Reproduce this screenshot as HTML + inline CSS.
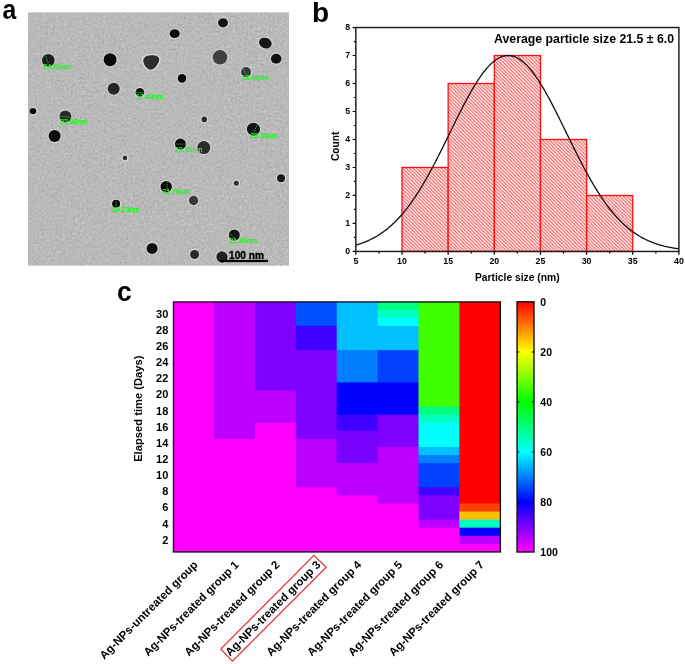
<!DOCTYPE html><html><head><meta charset="utf-8"><style>html,body{margin:0;padding:0;background:#fff;}svg{display:block;will-change:transform;}text{font-family:"Liberation Sans",sans-serif;}</style></head><body>
<svg width="685" height="664" viewBox="0 0 685 664">
<defs>
<pattern id="hatch" patternUnits="userSpaceOnUse" x="0" y="0" width="3.5" height="3.5"><rect width="3.5" height="3.5" fill="#fff"/><path d="M-1,-1L4.5,4.5M-1,2.5L1,4.5M2.5,-1L4.5,1" stroke="#f25a5a" stroke-width="1.15" fill="none"/></pattern>
<filter id="noise" x="0" y="0" width="100%" height="100%" color-interpolation-filters="sRGB"><feTurbulence type="fractalNoise" baseFrequency="0.45" numOctaves="2" seed="7"/><feColorMatrix type="matrix" values="0 0 0 0 1  0 0 0 0 1  0 0 0 0 1  1.6 0 0 0 -0.8"/></filter>
<filter id="noise2" x="0" y="0" width="100%" height="100%" color-interpolation-filters="sRGB"><feTurbulence type="fractalNoise" baseFrequency="0.45" numOctaves="2" seed="11"/><feColorMatrix type="matrix" values="0 0 0 0 0  0 0 0 0 0  0 0 0 0 0  1.6 0 0 0 -0.8"/></filter>
<linearGradient id="cb" x1="0" y1="0" x2="0" y2="1"><stop offset="0" stop-color="#ff0000"/><stop offset="0.2" stop-color="#ffff00"/><stop offset="0.4" stop-color="#00ff00"/><stop offset="0.6" stop-color="#00ffff"/><stop offset="0.8" stop-color="#0000ff"/><stop offset="1" stop-color="#ff00ff"/></linearGradient>
<radialGradient id="halo"><stop offset="0.6" stop-color="#fff" stop-opacity="0.9"/><stop offset="1" stop-color="#fff" stop-opacity="0"/></radialGradient>
</defs>
<rect x="28" y="12.4" width="261" height="253.20000000000002" fill="#b9b9b9"/>
<rect x="28" y="12.4" width="261" height="253.20000000000002" fill="#fff" filter="url(#noise)" opacity="0.5"/>
<rect x="28" y="12.4" width="261" height="253.20000000000002" fill="#000" filter="url(#noise2)" opacity="0.18"/>
<ellipse cx="48.3" cy="60.3" rx="7.9" ry="7.9" fill="url(#halo)"/>
<ellipse cx="48.3" cy="60.3" rx="6.3" ry="6.3" fill="#1e1e1e" transform="rotate(0 48.3 60.3)"/>
<ellipse cx="110.1" cy="59.7" rx="8.1" ry="8.1" fill="url(#halo)"/>
<ellipse cx="110.1" cy="59.7" rx="6.5" ry="6.5" fill="#0a0a0a" transform="rotate(0 110.1 59.7)"/>
<ellipse cx="113.7" cy="88.8" rx="7.6" ry="7.6" fill="url(#halo)"/>
<ellipse cx="113.7" cy="88.8" rx="6" ry="6" fill="#262626" transform="rotate(0 113.7 88.8)"/>
<ellipse cx="139.9" cy="92.2" rx="5.9" ry="5.9" fill="url(#halo)"/>
<ellipse cx="139.9" cy="92.2" rx="4.3" ry="4.3" fill="#101010" transform="rotate(0 139.9 92.2)"/>
<ellipse cx="32.9" cy="111.1" rx="5.0" ry="4.800000000000001" fill="url(#halo)"/>
<ellipse cx="32.9" cy="111.1" rx="3.4" ry="3.2" fill="#0a0a0a" transform="rotate(0 32.9 111.1)"/>
<ellipse cx="65.4" cy="116.4" rx="7.6" ry="7.6" fill="url(#halo)"/>
<ellipse cx="65.4" cy="116.4" rx="6" ry="6" fill="#2a2a2a" transform="rotate(0 65.4 116.4)"/>
<ellipse cx="54.6" cy="136.1" rx="7.6" ry="7.6" fill="url(#halo)"/>
<ellipse cx="54.6" cy="136.1" rx="6" ry="6" fill="#080808" transform="rotate(0 54.6 136.1)"/>
<ellipse cx="223" cy="22.8" rx="6.6" ry="6.199999999999999" fill="url(#halo)"/>
<ellipse cx="223" cy="22.8" rx="5" ry="4.6" fill="#141414" transform="rotate(0 223 22.8)"/>
<ellipse cx="174.7" cy="33.6" rx="6.699999999999999" ry="5.9" fill="url(#halo)"/>
<ellipse cx="174.7" cy="33.6" rx="5.1" ry="4.3" fill="#0a0a0a" transform="rotate(0 174.7 33.6)"/>
<ellipse cx="265.4" cy="43.1" rx="8.1" ry="6.9" fill="url(#halo)"/>
<ellipse cx="265.4" cy="43.1" rx="6.5" ry="5.3" fill="#141414" transform="rotate(20 265.4 43.1)"/>
<ellipse cx="276.2" cy="58.7" rx="6.9" ry="6.6" fill="url(#halo)"/>
<ellipse cx="276.2" cy="58.7" rx="5.3" ry="5.0" fill="#121212" transform="rotate(0 276.2 58.7)"/>
<ellipse cx="220" cy="57.3" rx="8.9" ry="8.9" fill="url(#halo)"/>
<ellipse cx="220" cy="57.3" rx="7.3" ry="7.3" fill="#404040" transform="rotate(0 220 57.3)"/>
<ellipse cx="182" cy="78.4" rx="5.9" ry="5.9" fill="url(#halo)"/>
<ellipse cx="182" cy="78.4" rx="4.3" ry="4.3" fill="#080808" transform="rotate(0 182 78.4)"/>
<ellipse cx="246" cy="72.1" rx="6.6" ry="6.6" fill="url(#halo)"/>
<ellipse cx="246" cy="72.1" rx="5" ry="5" fill="#3a3a3a" transform="rotate(0 246 72.1)"/>
<ellipse cx="204.3" cy="119.4" rx="4.4" ry="4.4" fill="url(#halo)"/>
<ellipse cx="204.3" cy="119.4" rx="2.8" ry="2.8" fill="#2e2e2e" transform="rotate(0 204.3 119.4)"/>
<ellipse cx="253.5" cy="129.2" rx="8.1" ry="8.1" fill="url(#halo)"/>
<ellipse cx="253.5" cy="129.2" rx="6.5" ry="6.5" fill="#121212" transform="rotate(0 253.5 129.2)"/>
<ellipse cx="125" cy="158" rx="4.0" ry="4.0" fill="url(#halo)"/>
<ellipse cx="125" cy="158" rx="2.4" ry="2.4" fill="#333333" transform="rotate(0 125 158)"/>
<ellipse cx="116.1" cy="203.7" rx="5.6" ry="5.6" fill="url(#halo)"/>
<ellipse cx="116.1" cy="203.7" rx="4" ry="4" fill="#080808" transform="rotate(0 116.1 203.7)"/>
<ellipse cx="152.1" cy="248.4" rx="7.1" ry="7.1" fill="url(#halo)"/>
<ellipse cx="152.1" cy="248.4" rx="5.5" ry="5.5" fill="#0e0e0e" transform="rotate(0 152.1 248.4)"/>
<ellipse cx="180.4" cy="144.1" rx="7.1" ry="7.1" fill="url(#halo)"/>
<ellipse cx="180.4" cy="144.1" rx="5.5" ry="5.5" fill="#080808" transform="rotate(0 180.4 144.1)"/>
<ellipse cx="203.8" cy="147.6" rx="8.1" ry="8.1" fill="url(#halo)"/>
<ellipse cx="203.8" cy="147.6" rx="6.5" ry="6.5" fill="#2a2a2a" transform="rotate(0 203.8 147.6)"/>
<ellipse cx="281" cy="178.3" rx="5.6" ry="5.6" fill="url(#halo)"/>
<ellipse cx="281" cy="178.3" rx="4" ry="4" fill="#1a1a1a" transform="rotate(0 281 178.3)"/>
<ellipse cx="236.3" cy="183.2" rx="4.2" ry="4.2" fill="url(#halo)"/>
<ellipse cx="236.3" cy="183.2" rx="2.6" ry="2.6" fill="#363636" transform="rotate(0 236.3 183.2)"/>
<ellipse cx="166.2" cy="186.8" rx="7.300000000000001" ry="7.300000000000001" fill="url(#halo)"/>
<ellipse cx="166.2" cy="186.8" rx="5.7" ry="5.7" fill="#080808" transform="rotate(0 166.2 186.8)"/>
<ellipse cx="193.6" cy="200.5" rx="6.300000000000001" ry="6.300000000000001" fill="url(#halo)"/>
<ellipse cx="193.6" cy="200.5" rx="4.7" ry="4.7" fill="#3a3a3a" transform="rotate(0 193.6 200.5)"/>
<ellipse cx="234.3" cy="235" rx="7.1" ry="7.1" fill="url(#halo)"/>
<ellipse cx="234.3" cy="235" rx="5.5" ry="5.5" fill="#151515" transform="rotate(0 234.3 235)"/>
<ellipse cx="194.6" cy="254.5" rx="6.1" ry="6.1" fill="url(#halo)"/>
<ellipse cx="194.6" cy="254.5" rx="4.5" ry="4.5" fill="#2a2a2a" transform="rotate(0 194.6 254.5)"/>
<ellipse cx="222" cy="257" rx="7.300000000000001" ry="7.300000000000001" fill="url(#halo)"/>
<ellipse cx="222" cy="257" rx="5.7" ry="5.7" fill="#222222" transform="rotate(0 222 257)"/>
<path d="M143.3,60.5 C143.3,56.2 148.5,55.2 153,55.3 C158.2,55.4 160.6,58.2 158.6,62.2 C157,65.6 154.2,69.8 150.6,69.7 C147,69.6 143.3,64.5 143.3,60.5 Z" fill="none" stroke="#fff" stroke-opacity="0.55" stroke-width="2.6"/>
<path d="M143.3,60.5 C143.3,56.2 148.5,55.2 153,55.3 C158.2,55.4 160.6,58.2 158.6,62.2 C157,65.6 154.2,69.8 150.6,69.7 C147,69.6 143.3,64.5 143.3,60.5 Z" fill="#2c2c2c"/>
<path d="M45.7,56.3L48.3,63.2 M59.5,116.4L71.3,117.4 M135.9,92.5L144.0,92.5 M242.7,68.1L246.6,75 M257.5,124.3L253.5,133.2 M116.1,201.1L116.1,206.2 M175.3,144.1L185.5,144.1 M167.2,181.8L167.2,190.9 M229.8,233.6L235.3,238.7" stroke="#22dd22" stroke-width="0.8" fill="none" stroke-dasharray="1.2 0.8"/>
<text x="43.20" y="68.60" font-size="7.1" fill="#2bf02b" stroke="#2bf02b" stroke-width="0.25">24.65nm</text>
<text x="135.90" y="98.70" font-size="7.1" fill="#2bf02b" stroke="#2bf02b" stroke-width="0.25">17.43nm</text>
<text x="60.00" y="124.30" font-size="7.1" fill="#2bf02b" stroke="#2bf02b" stroke-width="0.25">22.88nm</text>
<text x="241.20" y="80.00" font-size="7.1" fill="#2bf02b" stroke="#2bf02b" stroke-width="0.25">18.49nm</text>
<text x="250.10" y="137.70" font-size="7.1" fill="#2bf02b" stroke="#2bf02b" stroke-width="0.25">28.30nm</text>
<text x="111.90" y="211.60" font-size="7.1" fill="#2bf02b" stroke="#2bf02b" stroke-width="0.25">15.23nm</text>
<text x="174.80" y="151.60" font-size="7.1" fill="#2bf02b" stroke="#2bf02b" stroke-width="0.25">20.66nm</text>
<text x="162.20" y="193.90" font-size="7.1" fill="#2bf02b" stroke="#2bf02b" stroke-width="0.25">21.78nm</text>
<text x="229.30" y="243.30" font-size="7.1" fill="#2bf02b" stroke="#2bf02b" stroke-width="0.25">21.89nm</text>
<text x="229.1" y="258.5" font-size="10.1" font-weight="bold" fill="#000" stroke="#000" stroke-width="0.35" word-spacing="0">100 nm</text>
<rect x="220.7" y="259.9" width="47.3" height="2.2" fill="#000"/>
<text transform="translate(2.6,18.6) scale(0.9,1)" font-size="27.5" font-weight="bold">a</text>
<text transform="translate(312.0,22.1) scale(1.02,1)" font-size="27.5" font-weight="bold">b</text>
<text transform="translate(116.9,300.5) scale(0.96,1)" font-size="27.5" font-weight="bold">c</text>
<rect x="402.00" y="167.48" width="46.15" height="83.97" fill="url(#hatch)" stroke="#ff1010" stroke-width="1.3"/>
<rect x="448.15" y="83.51" width="46.15" height="167.94" fill="url(#hatch)" stroke="#ff1010" stroke-width="1.3"/>
<rect x="494.30" y="55.52" width="46.15" height="195.93" fill="url(#hatch)" stroke="#ff1010" stroke-width="1.3"/>
<rect x="540.45" y="139.49" width="46.15" height="111.96" fill="url(#hatch)" stroke="#ff1010" stroke-width="1.3"/>
<rect x="586.60" y="195.47" width="46.15" height="55.98" fill="url(#hatch)" stroke="#ff1010" stroke-width="1.3"/>
<polyline points="355.85,245.10 356.77,244.83 357.70,244.56 358.62,244.27 359.54,243.97 360.47,243.66 361.39,243.34 362.31,243.01 363.23,242.67 364.16,242.32 365.08,241.95 366.00,241.57 366.93,241.18 367.85,240.78 368.77,240.37 369.70,239.94 370.62,239.50 371.54,239.04 372.46,238.57 373.39,238.09 374.31,237.59 375.23,237.07 376.16,236.55 377.08,236.00 378.00,235.44 378.93,234.86 379.85,234.27 380.77,233.66 381.69,233.03 382.62,232.39 383.54,231.73 384.46,231.05 385.39,230.35 386.31,229.63 387.23,228.90 388.16,228.14 389.08,227.37 390.00,226.58 390.92,225.77 391.85,224.93 392.77,224.08 393.69,223.21 394.62,222.32 395.54,221.40 396.46,220.47 397.39,219.52 398.31,218.54 399.23,217.54 400.15,216.52 401.08,215.48 402.00,214.42 402.92,213.34 403.85,212.23 404.77,211.10 405.69,209.95 406.62,208.78 407.54,207.59 408.46,206.37 409.38,205.14 410.31,203.88 411.23,202.59 412.15,201.29 413.08,199.97 414.00,198.62 414.92,197.25 415.85,195.86 416.77,194.45 417.69,193.02 418.61,191.56 419.54,190.09 420.46,188.60 421.38,187.08 422.31,185.55 423.23,183.99 424.15,182.42 425.08,180.83 426.00,179.22 426.92,177.59 427.84,175.94 428.77,174.28 429.69,172.60 430.61,170.90 431.54,169.19 432.46,167.46 433.38,165.72 434.31,163.96 435.23,162.19 436.15,160.41 437.07,158.61 438.00,156.81 438.92,154.99 439.84,153.16 440.77,151.32 441.69,149.48 442.61,147.62 443.54,145.76 444.46,143.90 445.38,142.02 446.30,140.15 447.23,138.27 448.15,136.38 449.07,134.50 450.00,132.61 450.92,130.73 451.84,128.84 452.77,126.96 453.69,125.08 454.61,123.20 455.53,121.33 456.46,119.46 457.38,117.61 458.30,115.75 459.23,113.91 460.15,112.08 461.07,110.26 462.00,108.45 462.92,106.66 463.84,104.88 464.76,103.11 465.69,101.37 466.61,99.64 467.53,97.92 468.46,96.23 469.38,94.56 470.30,92.91 471.23,91.29 472.15,89.68 473.07,88.11 473.99,86.56 474.92,85.03 475.84,83.54 476.76,82.07 477.69,80.64 478.61,79.23 479.53,77.86 480.46,76.52 481.38,75.22 482.30,73.95 483.22,72.71 484.15,71.51 485.07,70.35 485.99,69.23 486.92,68.15 487.84,67.11 488.76,66.11 489.69,65.15 490.61,64.23 491.53,63.36 492.45,62.52 493.38,61.74 494.30,61.00 495.22,60.30 496.15,59.65 497.07,59.04 497.99,58.48 498.92,57.97 499.84,57.51 500.76,57.09 501.68,56.73 502.61,56.41 503.53,56.14 504.45,55.91 505.38,55.74 506.30,55.62 507.22,55.54 508.15,55.52 509.07,55.54 509.99,55.62 510.91,55.74 511.84,55.91 512.76,56.14 513.68,56.41 514.61,56.73 515.53,57.09 516.45,57.51 517.38,57.97 518.30,58.48 519.22,59.04 520.14,59.65 521.07,60.30 521.99,61.00 522.91,61.74 523.84,62.52 524.76,63.36 525.68,64.23 526.61,65.15 527.53,66.11 528.45,67.11 529.37,68.15 530.30,69.23 531.22,70.35 532.14,71.51 533.07,72.71 533.99,73.95 534.91,75.22 535.84,76.52 536.76,77.86 537.68,79.23 538.60,80.64 539.53,82.07 540.45,83.54 541.37,85.03 542.30,86.56 543.22,88.11 544.14,89.68 545.07,91.29 545.99,92.91 546.91,94.56 547.83,96.23 548.76,97.92 549.68,99.64 550.60,101.37 551.53,103.11 552.45,104.88 553.37,106.66 554.30,108.45 555.22,110.26 556.14,112.08 557.06,113.91 557.99,115.75 558.91,117.61 559.83,119.46 560.76,121.33 561.68,123.20 562.60,125.08 563.53,126.96 564.45,128.84 565.37,130.73 566.29,132.61 567.22,134.50 568.14,136.38 569.06,138.27 569.99,140.15 570.91,142.02 571.83,143.90 572.75,145.76 573.68,147.62 574.60,149.48 575.52,151.32 576.45,153.16 577.37,154.99 578.29,156.81 579.22,158.61 580.14,160.41 581.06,162.19 581.99,163.96 582.91,165.72 583.83,167.46 584.75,169.19 585.68,170.90 586.60,172.60 587.52,174.28 588.45,175.94 589.37,177.59 590.29,179.22 591.22,180.83 592.14,182.42 593.06,183.99 593.98,185.55 594.91,187.08 595.83,188.60 596.75,190.09 597.68,191.56 598.60,193.02 599.52,194.45 600.45,195.86 601.37,197.25 602.29,198.62 603.21,199.97 604.14,201.29 605.06,202.59 605.98,203.88 606.91,205.14 607.83,206.37 608.75,207.59 609.68,208.78 610.60,209.95 611.52,211.10 612.44,212.23 613.37,213.34 614.29,214.42 615.21,215.48 616.14,216.52 617.06,217.54 617.98,218.54 618.90,219.52 619.83,220.47 620.75,221.40 621.67,222.32 622.60,223.21 623.52,224.08 624.44,224.93 625.37,225.77 626.29,226.58 627.21,227.37 628.13,228.14 629.06,228.90 629.98,229.63 630.90,230.35 631.83,231.05 632.75,231.73 633.67,232.39 634.60,233.03 635.52,233.66 636.44,234.27 637.37,234.86 638.29,235.44 639.21,236.00 640.13,236.55 641.06,237.07 641.98,237.59 642.90,238.09 643.83,238.57 644.75,239.04 645.67,239.50 646.60,239.94 647.52,240.37 648.44,240.78 649.36,241.18 650.29,241.57 651.21,241.95 652.13,242.32 653.06,242.67 653.98,243.01 654.90,243.34 655.83,243.66 656.75,243.97 657.67,244.27 658.59,244.56 659.52,244.83 660.44,245.10 661.36,245.36 662.29,245.61 663.21,245.85 664.13,246.09 665.06,246.31 665.98,246.53 666.90,246.73 667.82,246.93 668.75,247.13 669.67,247.31 670.59,247.49 671.52,247.67 672.44,247.83 673.36,247.99 674.29,248.14 675.21,248.29 676.13,248.43 677.05,248.57 677.98,248.70 678.90,248.82" fill="none" stroke="#111" stroke-width="1.3"/>
<rect x="355.85" y="27.53" width="323.05" height="223.92" fill="none" stroke="#1c1c1c" stroke-width="1.45"/>
<path d="M355.85,251.45v3.2 M402.00,251.45v3.2 M448.15,251.45v3.2 M494.30,251.45v3.2 M540.45,251.45v3.2 M586.60,251.45v3.2 M632.75,251.45v3.2 M678.90,251.45v3.2 M378.93,251.45v2 M425.08,251.45v2 M471.23,251.45v2 M517.38,251.45v2 M563.53,251.45v2 M609.68,251.45v2 M655.83,251.45v2 M355.85,251.45h-3.2 M355.85,223.46h-3.2 M355.85,195.47h-3.2 M355.85,167.48h-3.2 M355.85,139.49h-3.2 M355.85,111.50h-3.2 M355.85,83.51h-3.2 M355.85,55.52h-3.2 M355.85,27.53h-3.2 M355.85,237.45h-2 M355.85,209.46h-2 M355.85,181.47h-2 M355.85,153.49h-2 M355.85,125.49h-2 M355.85,97.50h-2 M355.85,69.51h-2 M355.85,41.53h-2" stroke="#000" stroke-width="1.2" fill="none"/>
<text x="355.85" y="263.6" font-size="8.8" font-weight="bold" text-anchor="middle">5</text>
<text x="402.00" y="263.6" font-size="8.8" font-weight="bold" text-anchor="middle">10</text>
<text x="448.15" y="263.6" font-size="8.8" font-weight="bold" text-anchor="middle">15</text>
<text x="494.30" y="263.6" font-size="8.8" font-weight="bold" text-anchor="middle">20</text>
<text x="540.45" y="263.6" font-size="8.8" font-weight="bold" text-anchor="middle">25</text>
<text x="586.60" y="263.6" font-size="8.8" font-weight="bold" text-anchor="middle">30</text>
<text x="632.75" y="263.6" font-size="8.8" font-weight="bold" text-anchor="middle">35</text>
<text x="678.90" y="263.6" font-size="8.8" font-weight="bold" text-anchor="middle">40</text>
<text x="350.2" y="254.35" font-size="8.8" font-weight="bold" text-anchor="end">0</text>
<text x="350.2" y="226.36" font-size="8.8" font-weight="bold" text-anchor="end">1</text>
<text x="350.2" y="198.37" font-size="8.8" font-weight="bold" text-anchor="end">2</text>
<text x="350.2" y="170.38" font-size="8.8" font-weight="bold" text-anchor="end">3</text>
<text x="350.2" y="142.39" font-size="8.8" font-weight="bold" text-anchor="end">4</text>
<text x="350.2" y="114.40" font-size="8.8" font-weight="bold" text-anchor="end">5</text>
<text x="350.2" y="86.41" font-size="8.8" font-weight="bold" text-anchor="end">6</text>
<text x="350.2" y="58.42" font-size="8.8" font-weight="bold" text-anchor="end">7</text>
<text x="350.2" y="30.43" font-size="8.8" font-weight="bold" text-anchor="end">8</text>
<text x="517.3" y="280.5" font-size="10.3" font-weight="bold" text-anchor="middle">Particle size (nm)</text>
<text transform="translate(339.3,146.35) rotate(-90)" font-size="10.2" font-weight="bold" text-anchor="middle">Count</text>
<text x="674" y="43.2" font-size="12.3" font-weight="bold" text-anchor="end">Average particle size 21.5 ± 6.0</text>
<rect x="173.10" y="301.73" width="327.20" height="250.14" fill="#ff00ff"/>
<rect x="173.10" y="301.73" width="41.90" height="250.14" fill="#ff00ff"/>
<rect x="214.00" y="437.90" width="41.90" height="113.97" fill="#ff00ff"/>
<rect x="214.00" y="301.73" width="41.90" height="137.17" fill="#bb00ff"/>
<rect x="254.90" y="421.77" width="41.90" height="130.10" fill="#ff00ff"/>
<rect x="254.90" y="389.49" width="41.90" height="33.28" fill="#bb00ff"/>
<rect x="254.90" y="301.73" width="41.90" height="88.76" fill="#8000ff"/>
<rect x="295.80" y="486.32" width="41.90" height="65.55" fill="#ff00ff"/>
<rect x="295.80" y="437.90" width="41.90" height="49.41" fill="#bb00ff"/>
<rect x="295.80" y="349.14" width="41.90" height="89.76" fill="#8000ff"/>
<rect x="295.80" y="324.94" width="41.90" height="25.21" fill="#4000ff"/>
<rect x="295.80" y="301.73" width="41.90" height="24.21" fill="#0050ff"/>
<rect x="336.70" y="494.39" width="41.90" height="57.48" fill="#ff00ff"/>
<rect x="336.70" y="462.11" width="41.90" height="33.28" fill="#bb00ff"/>
<rect x="336.70" y="429.83" width="41.90" height="33.28" fill="#7800ff"/>
<rect x="336.70" y="413.70" width="41.90" height="17.14" fill="#4000ff"/>
<rect x="336.70" y="381.42" width="41.90" height="33.28" fill="#0000ff"/>
<rect x="336.70" y="349.14" width="41.90" height="33.28" fill="#0080ff"/>
<rect x="336.70" y="301.73" width="41.90" height="48.41" fill="#00c0ff"/>
<rect x="377.60" y="502.46" width="41.90" height="49.41" fill="#ff00ff"/>
<rect x="377.60" y="445.97" width="41.90" height="57.48" fill="#bb00ff"/>
<rect x="377.60" y="413.70" width="41.90" height="33.28" fill="#8000ff"/>
<rect x="377.60" y="381.42" width="41.90" height="33.28" fill="#0000ff"/>
<rect x="377.60" y="349.14" width="41.90" height="33.28" fill="#0040ff"/>
<rect x="377.60" y="324.94" width="41.90" height="25.21" fill="#00c0ff"/>
<rect x="377.60" y="316.87" width="41.90" height="9.07" fill="#00ffff"/>
<rect x="377.60" y="308.80" width="41.90" height="9.07" fill="#00ffc0"/>
<rect x="377.60" y="301.73" width="41.90" height="8.07" fill="#00ff80"/>
<rect x="418.50" y="526.66" width="41.90" height="25.21" fill="#ff00ff"/>
<rect x="418.50" y="518.59" width="41.90" height="9.07" fill="#bb00ff"/>
<rect x="418.50" y="494.39" width="41.90" height="25.21" fill="#8000ff"/>
<rect x="418.50" y="486.32" width="41.90" height="9.07" fill="#4000ff"/>
<rect x="418.50" y="462.11" width="41.90" height="25.21" fill="#0040ff"/>
<rect x="418.50" y="454.04" width="41.90" height="9.07" fill="#0080ff"/>
<rect x="418.50" y="445.97" width="41.90" height="9.07" fill="#00c0ff"/>
<rect x="418.50" y="421.77" width="41.90" height="25.21" fill="#00ffff"/>
<rect x="418.50" y="413.70" width="41.90" height="9.07" fill="#00ffc0"/>
<rect x="418.50" y="405.63" width="41.90" height="9.07" fill="#00ff80"/>
<rect x="418.50" y="301.73" width="41.90" height="104.90" fill="#40ff00"/>
<rect x="459.40" y="542.80" width="40.90" height="9.07" fill="#ff00ff"/>
<rect x="459.40" y="534.73" width="40.90" height="9.07" fill="#bb00ff"/>
<rect x="459.40" y="526.66" width="40.90" height="9.07" fill="#0000ff"/>
<rect x="459.40" y="518.59" width="40.90" height="9.07" fill="#00ffc0"/>
<rect x="459.40" y="510.52" width="40.90" height="9.07" fill="#ffc000"/>
<rect x="459.40" y="502.46" width="40.90" height="9.07" fill="#ff4000"/>
<rect x="459.40" y="301.73" width="40.90" height="201.73" fill="#ff0000"/>
<rect x="173.45" y="302.0" width="326.95" height="249.95" fill="none" stroke="#151515" stroke-width="1.35"/>
<text x="168.3" y="543.72" font-size="11" font-weight="bold" text-anchor="end">2</text>
<text x="168.3" y="527.58" font-size="11" font-weight="bold" text-anchor="end">4</text>
<text x="168.3" y="511.44" font-size="11" font-weight="bold" text-anchor="end">6</text>
<text x="168.3" y="495.30" font-size="11" font-weight="bold" text-anchor="end">8</text>
<text x="168.3" y="479.16" font-size="11" font-weight="bold" text-anchor="end">10</text>
<text x="168.3" y="463.03" font-size="11" font-weight="bold" text-anchor="end">12</text>
<text x="168.3" y="446.89" font-size="11" font-weight="bold" text-anchor="end">14</text>
<text x="168.3" y="430.75" font-size="11" font-weight="bold" text-anchor="end">16</text>
<text x="168.3" y="414.61" font-size="11" font-weight="bold" text-anchor="end">18</text>
<text x="168.3" y="398.47" font-size="11" font-weight="bold" text-anchor="end">20</text>
<text x="168.3" y="382.34" font-size="11" font-weight="bold" text-anchor="end">22</text>
<text x="168.3" y="366.20" font-size="11" font-weight="bold" text-anchor="end">24</text>
<text x="168.3" y="350.06" font-size="11" font-weight="bold" text-anchor="end">26</text>
<text x="168.3" y="333.92" font-size="11" font-weight="bold" text-anchor="end">28</text>
<text x="168.3" y="317.78" font-size="11" font-weight="bold" text-anchor="end">30</text>
<text transform="translate(142.4,408.7) rotate(-90)" font-size="11.2" font-weight="bold" text-anchor="middle">Elapsed time (Days)</text>
<text transform="translate(198.55,565.47) rotate(-45)" font-size="11.5" font-weight="bold" text-anchor="end" fill="#000">Ag-NPs-untreated group</text>
<text transform="translate(239.45,565.47) rotate(-45)" font-size="11.5" font-weight="bold" text-anchor="end" fill="#000">Ag-NPs-treated group 1</text>
<text transform="translate(280.35,565.47) rotate(-45)" font-size="11.5" font-weight="bold" text-anchor="end" fill="#000">Ag-NPs-treated group 2</text>
<text transform="translate(321.25,565.47) rotate(-45)" font-size="11.5" font-weight="bold" text-anchor="end" fill="#000">Ag-NPs-treated group 3</text>
<text transform="translate(362.15,565.47) rotate(-45)" font-size="11.5" font-weight="bold" text-anchor="end" fill="#000">Ag-NPs-treated group 4</text>
<text transform="translate(403.05,565.47) rotate(-45)" font-size="11.5" font-weight="bold" text-anchor="end" fill="#000">Ag-NPs-treated group 5</text>
<text transform="translate(443.95,565.47) rotate(-45)" font-size="11.5" font-weight="bold" text-anchor="end" fill="#000">Ag-NPs-treated group 6</text>
<text transform="translate(484.85,565.47) rotate(-45)" font-size="11.5" font-weight="bold" text-anchor="end" fill="#000">Ag-NPs-treated group 7</text>
<polygon points="314,555.4 326.2,567.2 232.4,661.2 220.8,649" fill="none" stroke="#e83030" stroke-width="1.2"/>
<rect x="517.0500000000001" y="301.8" width="16.950000000000024" height="250.20000000000002" fill="url(#cb)" stroke="#111" stroke-width="1.4"/>
<path d="M517.0500000000001,352.00h2.2 M534.0,352.00h-2.2 M517.0500000000001,402.00h2.2 M534.0,402.00h-2.2 M517.0500000000001,452.00h2.2 M534.0,452.00h-2.2 M517.0500000000001,502.00h2.2 M534.0,502.00h-2.2" stroke="#000" stroke-width="1" fill="none"/>
<text x="540.3" y="305.80" font-size="10.5" font-weight="bold">0</text>
<text x="540.3" y="355.80" font-size="10.5" font-weight="bold">20</text>
<text x="540.3" y="405.80" font-size="10.5" font-weight="bold">40</text>
<text x="540.3" y="455.80" font-size="10.5" font-weight="bold">60</text>
<text x="540.3" y="505.80" font-size="10.5" font-weight="bold">80</text>
<text x="540.3" y="555.80" font-size="10.5" font-weight="bold">100</text>
</svg></body></html>
